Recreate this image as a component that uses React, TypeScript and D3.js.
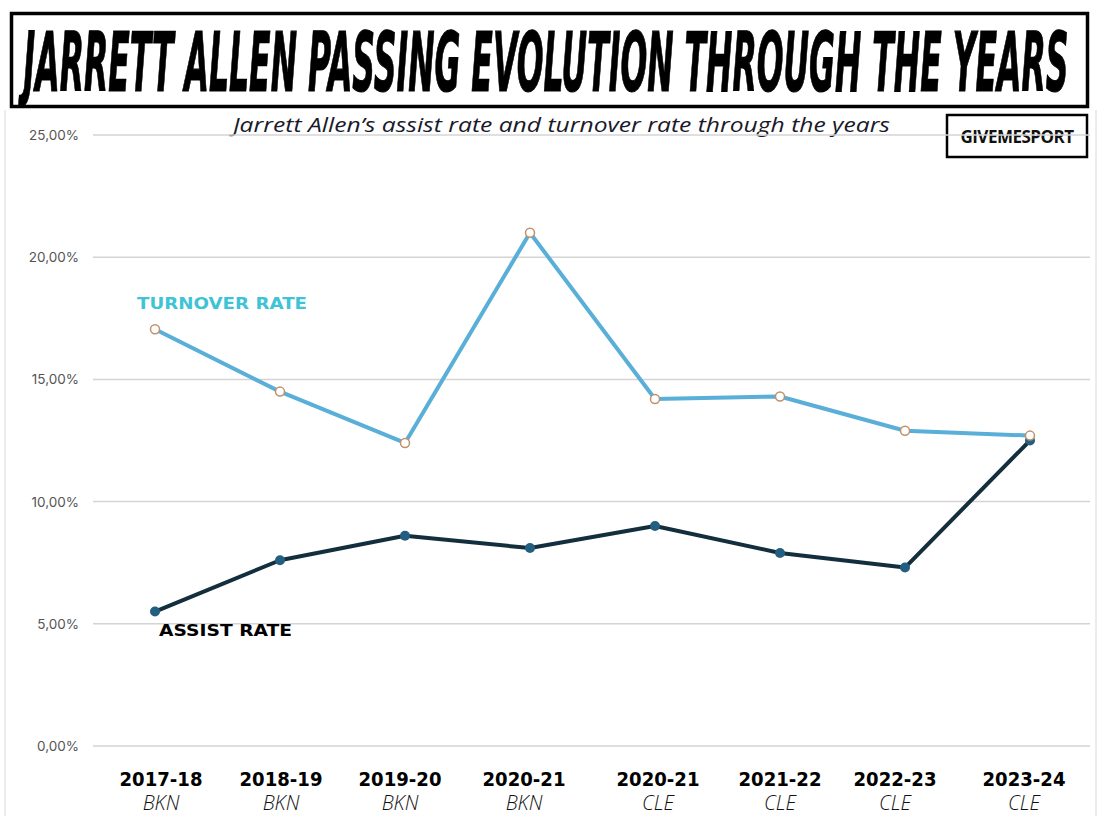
import React, { useLayoutEffect, useRef, useState } from "react";
import * as d3 from "d3";

const seasons = ["2017-18", "2018-19", "2019-20", "2020-21", "2020-21", "2021-22", "2022-23", "2023-24"];
const teams = ["BKN", "BKN", "BKN", "BKN", "CLE", "CLE", "CLE", "CLE"];
const turnoverRate = [17.05, 14.5, 12.4, 21.0, 14.2, 14.3, 12.9, 12.7];
const assistRate = [5.5, 7.6, 8.6, 8.1, 9.0, 7.9, 7.3, 12.5];
const yTicks = [0, 5, 10, 15, 20, 25];

const W = 1100;
const H = 816;
const labelShift = [6, 1, -5, -6, 3, 0, -10, -6];
const TITLE_W = 1045;

export default function App() {
  const titleRef = useRef<SVGTextElement>(null);
  const [sx, setSx] = useState(0.75);
  useLayoutEffect(() => {
    if (titleRef.current) {
      const w = titleRef.current.getComputedTextLength();
      if (w > 0) setSx(TITLE_W / w);
    }
  }, []);

  const x = d3.scalePoint<number>().domain(d3.range(seasons.length)).range([155, 1030]);
  const y = d3.scaleLinear().domain([0, 25]).range([746, 135]);
  const line = d3
    .line<number>()
    .x((_, i) => x(i) as number)
    .y((d) => y(d));
  const fmt = (v: number) => v.toFixed(2).replace(".", ",") + "%";

  return (
    <svg
      width={W}
      height={H}
      style={{ position: "absolute", left: 0, top: 0, background: "#fff" }}
    >
      <rect x={0} y={0} width={W} height={H} fill="#fff" />
      <line x1={5} x2={5} y1={110} y2={H} stroke="#e6e6e6" strokeWidth={1.5} />
      <line x1={1096} x2={1096} y1={110} y2={H} stroke="#e6e6e6" strokeWidth={1.5} />
      {/* Title box */}
      <rect x={11.5} y={13.5} width={1076} height={93} fill="#fff" stroke="#000" strokeWidth={3.5} />
      <g transform={`translate(546,91) scale(${sx},1.4)`}>
        <text
          ref={titleRef}
          x={0}
          y={0}
          textAnchor="middle"
          fontFamily="'Liberation Sans Narrow', 'DejaVu Sans Condensed', sans-serif"
          fontWeight="bold"
          fontStyle="italic"
          fontSize={58}
          stroke="#000"
          strokeWidth={0.8}
          fill="#000"
        >
          JARRETT ALLEN PASSING EVOLUTION THROUGH THE YEARS
        </text>
      </g>
      {/* Subtitle */}
      <text
        x={233}
        y={132}
        fontFamily="'Open Sans', Lato, sans-serif"
        fontStyle="italic"
        fontWeight={400}
        fontSize={20}
        textLength={657}
        lengthAdjust="spacingAndGlyphs"
        fill="#1a1a2a"
      >
        Jarrett Allen’s assist rate and turnover rate through the years
      </text>
      {/* GIVEMESPORT */}
      <rect x={947} y={115} width={140} height={42} fill="#fff" stroke="#000" strokeWidth={2.5} />
      <text
        x={1017}
        y={143}
        textAnchor="middle"
        fontFamily="'Open Sans', Lato, sans-serif"
        fontWeight="bold"
        fontSize={17}
        letterSpacing={-0.5}
        fill="#111"
      >
        GIVEMESPORT
      </text>
      {/* grid */}
      {yTicks.map((t) => (
        <g key={t}>
          <line x1={93} x2={1090} y1={y(t)} y2={y(t)} stroke="#d4d4d4" strokeWidth={1.5} />
          <text
            x={79}
            y={y(t) + 5}
            textAnchor="end"
            fontFamily="Inter, 'Open Sans', sans-serif"
            fontSize={13.5}
            fill="#555"
          >
            {fmt(t)}
          </text>
        </g>
      ))}
      {/* lines */}
      <path d={line(turnoverRate) || ""} fill="none" stroke="#5aafd8" strokeWidth={4} strokeLinejoin="round" />
      <path d={line(assistRate) || ""} fill="none" stroke="#132e3d" strokeWidth={4} strokeLinejoin="round" />
      {assistRate.map((v, i) => (
        <circle key={"a" + i} cx={x(i)} cy={y(v)} r={5} fill="#235f80" />
      ))}
      {turnoverRate.map((v, i) => (
        <circle key={"t" + i} cx={x(i)} cy={y(v)} r={4.5} fill="#fff" stroke="#c0916a" strokeWidth={1.5} />
      ))}
      {/* series labels */}
      <text
        x={137}
        y={309}
        fontFamily="'DejaVu Sans', sans-serif"
        fontWeight="bold"
        fontSize={16}
        fill="#3fc3d6"
        textLength={170}
        lengthAdjust="spacingAndGlyphs"
      >
        TURNOVER RATE
      </text>
      <text
        x={159}
        y={636}
        fontFamily="'DejaVu Sans', sans-serif"
        fontWeight="bold"
        fontSize={16}
        fill="#000"
        textLength={133}
        lengthAdjust="spacingAndGlyphs"
      >
        ASSIST RATE
      </text>
      {/* x labels */}
      {seasons.map((s, i) => (
        <g key={"x" + i}>
          <text
            x={(x(i) as number) + labelShift[i]}
            y={786}
            textAnchor="middle"
            fontFamily="'DejaVu Sans', sans-serif"
            fontWeight="bold"
            fontSize={20}
            textLength={83}
            lengthAdjust="spacingAndGlyphs"
            fill="#000"
          >
            {s}
          </text>
          <text
            x={(x(i) as number) + labelShift[i]}
            y={810}
            textAnchor="middle"
            fontFamily="'Open Sans', Lato, sans-serif"
            fontStyle="italic"
            fontWeight={300}
            fontSize={20}
            fill="#111"
          >
            {teams[i]}
          </text>
        </g>
      ))}
    </svg>
  );
}
